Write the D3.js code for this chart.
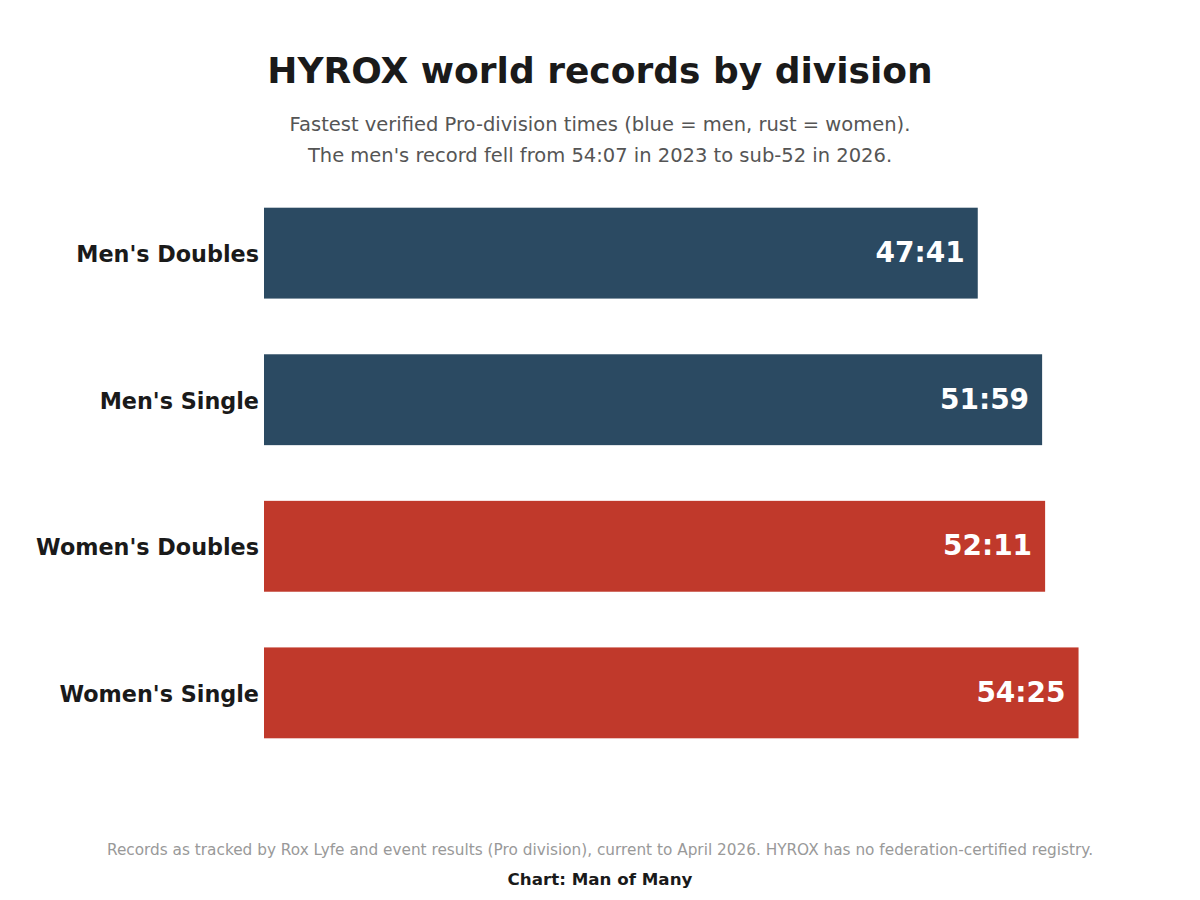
<!DOCTYPE html>
<html>
  <head>
    <meta charset="utf-8">
    <!-- Load d3.js -->
    <script src="https://d3js.org/d3.v7.min.js"></script>
    <style>
      body { margin: 0; background: #fff; }
      text { font-family: "DejaVu Sans", sans-serif; }
    </style>
  </head>
  <body>
    <div id="my_dataviz"></div>
  </body>

  <script>
    const W = 1200, H = 900

    // data
    const divisions = ["Men's Doubles", "Men's Single", "Women's Doubles", "Women's Single"]
    const times = ["47:41", "51:59", "52:11", "54:25"]
    const gender = ["men", "men", "women", "women"]

    const toSec = t => { const p = t.split(':'); return +p[0] * 60 + +p[1] }
    const data = divisions.map((d, i) => ({name: d, time: times[i], sec: toSec(times[i]), g: gender[i]}))

    const colors = {men: "#2b4a62", women: "#c0392b"}

    const svg = d3.select("#my_dataviz")
      .append("svg")
        .attr("width", W)
        .attr("height", H)

    svg.append("rect").attr("width", W).attr("height", H).attr("fill", "#fff")

    // scales
    const x = d3.scaleLinear()
      .domain([0, d3.max(data, d => d.sec) * 1.1])
      .range([264, 1160])

    const y = d3.scaleBand()
      .domain(divisions)
      .range([152, 794])
      .padding(0.38)

    // title + subtitle
    svg.append("text")
      .attr("x", W / 2).attr("y", 83)
      .attr("text-anchor", "middle")
      .attr("font-size", "36px").attr("font-weight", "bold")
      .attr("fill", "#1a1a1a")
      .text("HYROX world records by division")

    const sub = ["Fastest verified Pro-division times (blue = men, rust = women).",
                 "The men's record fell from 54:07 in 2023 to sub-52 in 2026."]
    svg.selectAll(".sub")
      .data(sub)
      .join("text")
        .attr("class", "sub")
        .attr("x", W / 2)
        .attr("y", (d, i) => 131 + i * 31)
        .attr("text-anchor", "middle")
        .attr("font-size", "19.5px")
        .attr("fill", "#555")
        .text(d => d)

    // bars
    svg.selectAll(".bar")
      .data(data)
      .join("rect")
        .attr("class", "bar")
        .attr("x", x(0))
        .attr("y", d => y(d.name))
        .attr("width", d => x(d.sec) - x(0))
        .attr("height", y.bandwidth())
        .attr("fill", d => colors[d.g])

    // category labels
    svg.selectAll(".cat")
      .data(data)
      .join("text")
        .attr("class", "cat")
        .attr("x", x(0) - 5)
        .attr("y", d => y(d.name) + y.bandwidth() / 2 + 1)
        .attr("dy", "0.35em")
        .attr("text-anchor", "end")
        .attr("font-size", "22.3px").attr("font-weight", "bold")
        .attr("fill", "#1a1a1a")
        .text(d => d.name)

    // value labels
    svg.selectAll(".val")
      .data(data)
      .join("text")
        .attr("class", "val")
        .attr("x", d => x(d.sec) - 13)
        .attr("y", d => y(d.name) + y.bandwidth() / 2 - 1)
        .attr("dy", "0.35em")
        .attr("text-anchor", "end")
        .attr("font-size", "28px").attr("font-weight", "bold")
        .attr("fill", "#fff")
        .text(d => d.time)

    // footer
    svg.append("text")
      .attr("x", W / 2).attr("y", 855)
      .attr("text-anchor", "middle")
      .attr("font-size", "15.3px")
      .attr("fill", "#999")
      .text("Records as tracked by Rox Lyfe and event results (Pro division), current to April 2026. HYROX has no federation-certified registry.")

    svg.append("text")
      .attr("x", W / 2).attr("y", 885)
      .attr("text-anchor", "middle")
      .attr("font-size", "16.7px").attr("font-weight", "bold")
      .attr("fill", "#1a1a1a")
      .text("Chart: Man of Many")
  </script>
</html>
